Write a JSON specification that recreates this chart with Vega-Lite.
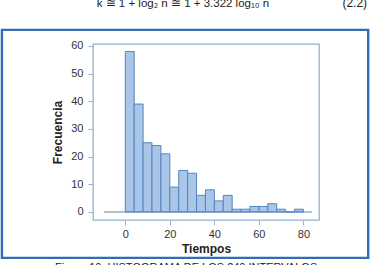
{
  "$schema": "https://vega.github.io/schema/vega-lite/v6.json",
  "width": 226,
  "height": 176,
  "autosize": {"type": "none"},
  "padding": {"left": 93, "top": 44, "right": 56, "bottom": 45},
  "background": "white",
  "config": {
    "font": "Liberation Sans",
    "view": {"stroke": "#93b2cf", "strokeWidth": 1.3},
    "axis": {
      "grid": false,
      "domain": false,
      "tickColor": "#93b2cf",
      "tickSize": 5,
      "labelFontSize": 11,
      "labelColor": "#333333",
      "labelOverlap": false,
      "titleFontSize": 12,
      "titleFontWeight": "bold",
      "titleColor": "#222222"
    }
  },
  "datasets": {
    "intervalos": [
      {"desde": 0, "hasta": 4, "frecuencia": 58},
      {"desde": 4, "hasta": 8, "frecuencia": 39},
      {"desde": 8, "hasta": 12, "frecuencia": 25},
      {"desde": 12, "hasta": 16, "frecuencia": 24},
      {"desde": 16, "hasta": 20, "frecuencia": 21},
      {"desde": 20, "hasta": 24, "frecuencia": 9},
      {"desde": 24, "hasta": 28, "frecuencia": 15},
      {"desde": 28, "hasta": 32, "frecuencia": 14},
      {"desde": 32, "hasta": 36, "frecuencia": 6},
      {"desde": 36, "hasta": 40, "frecuencia": 8},
      {"desde": 40, "hasta": 44, "frecuencia": 4},
      {"desde": 44, "hasta": 48, "frecuencia": 6},
      {"desde": 48, "hasta": 52, "frecuencia": 1},
      {"desde": 52, "hasta": 56, "frecuencia": 1},
      {"desde": 56, "hasta": 60, "frecuencia": 2},
      {"desde": 60, "hasta": 64, "frecuencia": 2},
      {"desde": 64, "hasta": 68, "frecuencia": 3},
      {"desde": 68, "hasta": 72, "frecuencia": 1},
      {"desde": 72, "hasta": 76, "frecuencia": 0},
      {"desde": 76, "hasta": 80, "frecuencia": 1}
    ],
    "ecuacion": [{"texto": "k ≅ 1 + log₂ n ≅ 1 + 3.322 log₁₀ n"}],
    "numero": [{"texto": "(2.2)"}],
    "pie": [{"texto": "Figura 10.   HISTOGRAMA DE LOS 240 INTERVALOS"}]
  },
  "layer": [
    {
      "data": {"name": "intervalos"},
      "mark": {"type": "rect", "fill": "#a9c5e7", "stroke": "#5585bf", "strokeWidth": 1, "fillOpacity": 1},
      "encoding": {
        "x": {
          "field": "desde",
          "type": "quantitative",
          "title": "Tiempos",
          "scale": {"domain": [-14.5, 87], "nice": false, "zero": false},
          "axis": {"values": [0, 20, 40, 60, 80], "labelPadding": 3, "titlePadding": 4}
        },
        "x2": {"field": "hasta"},
        "y": {
          "field": "frecuencia",
          "type": "quantitative",
          "title": "Frecuencia",
          "scale": {"domain": [-2.9, 60.7], "nice": false, "zero": false},
          "axis": {"values": [0, 10, 20, 30, 40, 50, 60], "labelPadding": 5, "titlePadding": 6}
        },
        "y2": {"datum": 0}
      }
    },
    {
      "data": {"values": [{}]},
      "mark": {"type": "rule", "stroke": "#5585bf", "strokeWidth": 1},
      "encoding": {
        "x": {"datum": -9.6, "type": "quantitative", "title": "Tiempos", "axis": {"values": [0, 20, 40, 60, 80], "labelPadding": 3, "titlePadding": 4}},
        "x2": {"datum": 83.8},
        "y": {"datum": 0, "type": "quantitative", "title": "Frecuencia", "axis": {"values": [0, 10, 20, 30, 40, 50, 60], "labelPadding": 5, "titlePadding": 6}}
      }
    },
    {
      "data": {"values": [{}]},
      "mark": {"type": "rect", "fill": null, "fillOpacity": 0, "stroke": "#2f6db5", "strokeWidth": 2.4},
      "encoding": {
        "x": {"datum": -55.4, "type": "quantitative", "title": "Tiempos", "axis": {"values": [0, 20, 40, 60, 80], "labelPadding": 3, "titlePadding": 4}},
        "x2": {"datum": 109.1},
        "y": {"datum": 65.8, "type": "quantitative", "title": "Frecuencia", "axis": {"values": [0, 10, 20, 30, 40, 50, 60], "labelPadding": 5, "titlePadding": 6}},
        "y2": {"datum": -16.6}
      }
    },
    {
      "data": {"name": "ecuacion"},
      "mark": {"type": "text", "fontSize": 11.5, "align": "center", "baseline": "alphabetic", "color": "#222222"},
      "encoding": {
        "text": {"field": "texto"},
        "x": {"datum": 25.9, "type": "quantitative", "title": "Tiempos", "axis": {"values": [0, 20, 40, 60, 80], "labelPadding": 3, "titlePadding": 4}},
        "y": {"datum": 74.1, "type": "quantitative", "title": "Frecuencia", "axis": {"values": [0, 10, 20, 30, 40, 50, 60], "labelPadding": 5, "titlePadding": 6}}
      }
    },
    {
      "data": {"name": "numero"},
      "mark": {"type": "text", "fontSize": 12, "align": "right", "baseline": "alphabetic", "color": "#222222"},
      "encoding": {
        "text": {"field": "texto"},
        "x": {"datum": 108.6, "type": "quantitative", "title": "Tiempos", "axis": {"values": [0, 20, 40, 60, 80], "labelPadding": 3, "titlePadding": 4}},
        "y": {"datum": 74.1, "type": "quantitative", "title": "Frecuencia", "axis": {"values": [0, 10, 20, 30, 40, 50, 60], "labelPadding": 5, "titlePadding": 6}}
      }
    },
    {
      "data": {"name": "pie"},
      "mark": {"type": "text", "fontSize": 11, "align": "center", "baseline": "alphabetic", "color": "#222222"},
      "encoding": {
        "text": {"field": "texto"},
        "x": {"datum": 27.3, "type": "quantitative", "title": "Tiempos", "axis": {"values": [0, 20, 40, 60, 80], "labelPadding": 3, "titlePadding": 4}},
        "y": {"datum": -21.3, "type": "quantitative", "title": "Frecuencia", "axis": {"values": [0, 10, 20, 30, 40, 50, 60], "labelPadding": 5, "titlePadding": 6}}
      }
    }
  ]
}
